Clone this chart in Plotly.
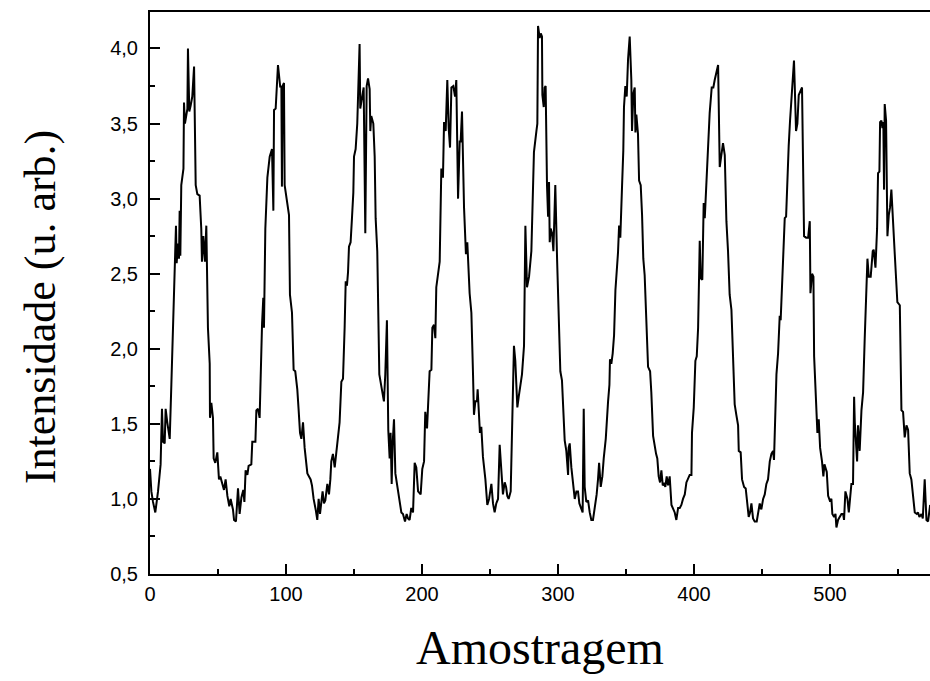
import plotly.graph_objects as go

amostra = [
    0.0, 1.0, 2.2, 3.9, 5.9, 7.8, 8.8, 9.6, 10.8, 11.5, 12.7, 14.5, 15.7, 17.2, 18.6, 19.1, 19.6, 20.6, 21.3, 21.8,
    22.3, 23.0, 24.6, 25.0, 25.7, 26.7, 27.5, 27.9, 28.9, 29.9, 31.1, 32.4, 33.6, 34.8, 36.5, 37.7, 38.2, 39.2, 40.4, 41.4,
    42.6, 43.9, 44.1, 45.1, 46.3, 46.8, 48.0, 49.5, 50.7, 51.7, 52.9, 54.4, 55.6, 56.9, 58.3, 59.3, 61.0, 61.8, 63.2, 64.7,
    65.9, 67.2, 68.6, 69.4, 70.3, 71.6, 72.5, 74.5, 75.2, 77.5, 78.2, 79.4, 80.6, 81.4, 82.4, 83.3, 83.8, 84.8, 86.3, 88.0,
    89.7, 90.7, 91.2, 92.4,
    94.1, 95.8, 96.6, 97.0, 97.5, 98.5, 99.0, 102.2, 102.9, 104.4, 105.6, 106.8, 108.3, 109.3, 110.3, 111.3, 112.5, 113.7,
    115.7, 116.9, 118.1, 119.1, 120.3, 121.8, 123.0, 124.0, 125.0, 126.0, 126.9, 127.9, 128.9, 130.4, 131.6, 132.6, 133.3,
    134.5, 135.8, 137.0, 138.2, 139.4, 140.7, 141.9, 143.1, 143.9, 144.8, 145.6, 146.3, 147.5, 148.5, 149.5, 150.0, 151.2,
    152.4, 152.9, 154.1, 154.6, 155.9, 157.1, 158.3, 159.3, 160.3, 161.5, 162.0, 162.7, 164.2, 165.2, 165.9, 167.1, 168.6,
    170.1, 172.0, 173.0, 174.2, 175.2, 176.2, 176.9, 177.7, 178.4, 179.4, 180.4, 181.8, 183.6, 184.8, 186.0, 187.5, 188.7,
    189.7, 190.9, 192.1, 193.4, 194.6, 195.8, 197.1, 199.0, 200.2, 201.5, 202.4, 203.7, 204.9, 205.6, 206.9, 207.6, 208.8,
    209.8, 210.5, 211.8, 213.0, 214.2, 215.4, 216.2, 217.4, 218.6, 219.6, 220.6, 221.6, 223.0, 224.3, 225.2, 226.0, 226.5,
    227.7, 228.4, 229.4, 230.9, 232.3, 233.3, 235.0, 236.3, 237.5, 238.2, 239.2, 240.4, 240.9, 241.7, 242.6, 243.6, 244.8,
    246.6, 248.0, 249.3, 251.0, 252.2, 253.4, 254.6, 255.9, 257.1, 258.3, 259.5, 260.8, 261.8, 262.7, 263.7, 265.2, 266.4,
    267.6, 268.6, 270.1, 271.1, 272.3, 273.5, 275.0, 276.0, 277.2, 278.7, 280.4, 281.6, 282.3, 284.1, 284.8,
    285.3, 285.8, 286.5, 287.3, 288.2, 288.5, 289.5, 290.2, 290.9, 291.9, 292.7, 293.4, 293.9, 294.6, 295.6, 296.6, 297.1,
    298.0, 299.3, 300.5, 301.7, 302.9, 304.2, 304.9, 306.1, 307.4, 307.8, 308.6, 309.8, 310.8, 312.3, 313.5, 314.7, 315.7,
    317.2, 318.1, 318.9, 319.6, 320.8, 322.1, 323.3, 324.5, 325.7, 327.0, 328.4, 329.4, 330.2, 331.4, 332.6, 333.6, 335.1,
    336.8, 337.8, 338.2, 339.2, 340.2, 341.2, 342.2, 343.4, 344.1, 344.9, 345.8, 347.1, 348.0, 348.5, 349.5, 350.5, 351.5,
    352.7, 353.9, 354.4, 355.4, 356.4, 356.9, 357.6, 358.8, 359.6, 360.8, 361.8, 362.7, 363.7, 364.9, 366.2, 367.7, 368.6,
    369.9, 371.1, 372.1, 373.0, 374.0, 375.0, 376.0, 377.0, 377.9, 378.9, 379.9, 380.9,
    382.1, 383.4, 384.6, 385.8, 387.0, 388.3, 389.5, 390.7, 391.9, 393.2, 394.4, 395.6, 396.8, 398.1, 398.5, 399.8, 401.0,
    402.0, 403.0, 404.2, 404.9, 406.1, 407.1, 407.9, 409.1, 410.3, 411.5, 413.0, 414.2, 415.2, 416.4, 417.7, 418.9, 420.1,
    421.3, 422.6, 423.8, 425.0, 426.2, 427.5, 428.7, 429.9, 431.1, 432.4, 432.9, 434.3, 435.3, 436.8, 438.0, 439.2, 440.2,
    441.2, 442.2, 443.4, 444.6, 446.1, 447.1, 448.3, 449.5, 450.8, 452.0, 453.2, 454.4, 455.7, 456.9, 458.1, 458.8, 459.8,
    460.6, 461.8, 463.0, 463.7, 464.7, 465.5, 466.7, 467.7, 468.6, 469.6, 470.6, 471.6, 472.8, 473.5, 474.0, 475.0, 476.0,
    477.0,
    479.4, 480.2, 480.9, 482.4, 483.9, 485.1, 485.6, 486.8, 487.8, 488.3, 489.5, 490.7, 491.7, 492.7, 494.1, 495.1, 495.9,
    497.6, 498.6, 499.8, 501.0, 501.7, 503.0, 504.0, 504.7, 505.9, 507.1, 508.4, 509.6, 510.3, 511.3, 512.8, 513.8, 514.7,
    515.7, 516.9, 517.7, 518.2, 519.1, 519.9, 520.6, 521.8, 523.1, 524.3, 525.5, 526.7, 527.5, 528.5, 529.9, 531.4, 532.1,
    533.4, 534.6, 535.3, 536.3, 536.8, 537.8, 538.5, 539.2, 539.7, 540.2, 541.2, 542.2, 543.2, 544.1, 545.1, 546.1, 547.6,
    549.5, 551.3, 552.5, 553.7, 554.9, 556.2, 557.4, 558.6, 559.8, 560.8, 562.3, 563.8, 564.7, 565.7, 567.2, 568.2, 569.6,
    570.9, 572.1, 573.6,
]

intensidade = [
    1.20, 1.05, 0.98, 0.91, 1.05, 1.23, 1.60, 1.38, 1.37, 1.60, 1.51, 1.40, 1.76, 2.19, 2.55, 2.82, 2.57, 2.70, 2.60, 2.92,
    2.62, 3.09, 3.20, 3.64, 3.50, 3.55, 3.60, 4.00, 3.58, 3.62, 3.68, 3.88, 3.09, 3.03, 3.02, 2.80, 2.58, 2.75, 2.58, 2.82,
    2.14, 1.90, 1.54, 1.64, 1.54, 1.27, 1.24, 1.31, 1.13, 1.15, 1.11, 1.06, 1.13, 1.02, 0.95, 1.00, 0.93, 0.86, 0.85, 1.07,
    0.90, 1.01, 1.06, 0.98, 1.19, 1.16, 1.22, 1.23, 1.38, 1.38, 1.59, 1.60, 1.54, 1.92, 2.17, 2.34, 2.14, 2.80, 3.14, 3.28,
    3.33, 2.92, 3.59, 3.60,
    3.89, 3.74, 3.75, 3.08, 3.75, 3.77, 3.09, 2.89, 2.36, 2.24, 1.86, 1.85, 1.73, 1.59, 1.44, 1.40, 1.51, 1.34,
    1.17, 1.15, 1.13, 1.09, 1.00, 0.93, 0.86, 1.00, 0.90, 0.98, 1.05, 0.97, 0.99, 1.10, 1.03, 1.13, 1.25,
    1.30, 1.21, 1.31, 1.42, 1.51, 1.78, 1.80, 2.14, 2.45, 2.42, 2.51, 2.68, 2.71, 2.87, 3.04, 3.28, 3.33,
    3.50, 3.62, 4.03, 3.60, 3.69, 3.74, 2.77, 3.75, 3.80, 3.73, 3.45, 3.55, 3.50, 3.28, 2.87, 2.65, 1.83,
    1.76, 1.65, 1.83, 2.19, 1.46, 1.27, 1.44, 1.10, 1.37, 1.53, 1.17, 1.08, 0.98, 0.91, 0.90, 0.85, 0.90,
    0.87, 0.86, 0.94, 0.91, 1.24, 1.21, 1.05, 1.03, 1.20, 1.25, 1.58, 1.47, 1.69, 1.85, 1.86, 2.14, 2.16,
    2.07, 2.41, 2.51, 2.58, 3.20, 3.14, 3.51, 3.45, 3.79, 3.47, 3.34, 3.74, 3.75, 3.68, 3.79, 3.31, 3.00,
    3.38, 3.38, 3.58, 2.94, 2.63, 2.71, 2.37, 2.24, 1.83, 1.56, 1.65, 1.65, 1.73, 1.59, 1.44, 1.48, 1.28,
    1.13, 0.96, 1.00, 1.10, 0.97, 0.91, 0.97, 1.00, 1.36, 1.15, 1.03, 1.11, 1.08, 1.02, 1.00, 1.05, 1.46,
    2.02, 1.92, 1.61, 1.68, 1.76, 1.83, 2.02, 2.82, 2.41, 2.48, 2.65, 3.04, 3.31, 3.45, 3.50,
    4.15, 4.12, 4.07, 4.10, 4.08, 3.69, 3.61, 3.74, 3.75, 3.09, 2.88, 3.11, 2.71, 2.80, 2.77, 2.65, 2.80,
    3.09, 2.60, 2.24, 1.85, 1.79, 1.46, 1.39, 1.32, 1.16, 1.34, 1.37, 1.21, 1.13, 1.00, 1.05, 1.05, 0.97,
    0.94, 0.91, 1.60, 1.08, 0.98, 0.99, 0.91, 0.86, 0.86, 0.93, 1.03, 1.13, 1.24, 1.08, 1.15, 1.27, 1.40,
    1.65, 1.76, 1.93, 1.90, 1.97, 2.09, 2.39, 2.52, 2.64, 2.82, 2.74, 3.09, 3.32, 3.61, 3.75, 3.68, 3.93,
    4.08, 3.79, 3.45, 3.70, 3.74, 3.44, 3.56, 3.43, 3.12, 3.09, 2.89, 2.60, 2.49, 2.22, 1.88, 1.85, 1.71,
    1.42, 1.34, 1.30, 1.27, 1.15, 1.11, 1.19, 1.09, 1.10, 1.08, 1.15, 1.09,
    1.15, 0.96, 0.93, 0.91, 0.86, 0.94, 0.94, 0.96, 1.00, 1.03, 1.11, 1.14, 1.16, 1.16, 1.44, 1.61, 1.92,
    1.95, 2.14, 2.72, 2.47, 2.46, 2.97, 2.87, 3.11, 3.44, 3.57, 3.74, 3.74, 3.79, 3.84, 3.89, 3.21, 3.29,
    3.37, 3.29, 2.85, 2.65, 2.36, 2.26, 1.95, 1.63, 1.56, 1.49, 1.32, 1.31, 1.13, 1.08, 1.07, 0.97, 0.88,
    0.91, 0.97, 0.87, 0.85, 0.85, 0.91, 0.97, 0.93, 1.00, 1.03, 1.10, 1.13, 1.25, 1.30, 1.32, 1.26, 1.66,
    1.83, 1.97, 2.22, 2.19, 2.46, 2.61, 2.87, 2.88, 3.16, 3.35, 3.52, 3.69, 3.85, 3.92, 3.77, 3.45, 3.50,
    3.69,
    3.74, 3.14, 2.75, 2.74, 2.74, 2.85, 2.37, 2.50, 2.48, 1.95, 1.66, 1.44, 1.53, 1.34, 1.25, 1.15, 1.23,
    1.18, 1.02, 0.99, 1.00, 0.90, 0.88, 0.90, 0.81, 0.86, 0.88, 0.90, 0.90, 0.86, 1.05, 1.00, 0.91, 1.03,
    1.10, 1.10, 1.68, 1.51, 1.34, 1.25, 1.49, 1.32, 1.59, 1.71, 2.07, 2.36, 2.60, 2.48, 2.48, 2.65, 2.66,
    2.54, 2.80, 3.17, 3.18, 3.51, 3.52, 3.47, 3.51, 3.06, 3.63, 3.52, 2.75, 2.89, 2.94, 3.06, 2.85, 2.63,
    2.31, 2.29, 1.59, 1.58, 1.41, 1.49, 1.46, 1.17, 1.13, 1.03, 0.91, 0.90, 0.91, 0.88, 0.90, 0.87, 1.13,
    0.86, 0.85, 0.96,
]

x_tickvals = [0, 100, 200, 300, 400, 500]
x_ticktext = ["0", "100", "200", "300", "400", "500"]
x_minorvals = [50, 150, 250, 350, 450, 550]
y_tickvals = [0.5, 1.0, 1.5, 2.0, 2.5, 3.0, 3.5, 4.0]
y_ticktext = ["0,5", "1,0", "1,5", "2,0", "2,5", "3,0", "3,5", "4,0"]
y_minorvals = [0.75, 1.25, 1.75, 2.25, 2.75, 3.25, 3.75]
x_title = "Amostragem"
y_title = "Intensidade (u. arb.)"

fig = go.Figure(
    go.Scatter(x=amostra, y=intensidade, mode="lines",
               line=dict(color="black", width=2), hoverinfo="skip")
)

tick_font = dict(family="Liberation Sans, Arial, sans-serif", size=20, color="black")
title_font_family = "Liberation Serif, Times New Roman, serif"

fig.update_layout(
    width=930, height=681,
    margin=dict(l=150, r=0, t=12, b=107),
    plot_bgcolor="white", paper_bgcolor="white",
    showlegend=False,
)

fig.update_xaxes(
    range=[0, 573.5], tickvals=x_tickvals, ticktext=x_ticktext,
    ticks="inside", ticklen=10, tickwidth=2, tickcolor="black",
    showline=True, linewidth=2, linecolor="black", mirror=True,
    showgrid=False, zeroline=False, tickfont=tick_font, ticklabelstandoff=1,
    minor=dict(tickvals=x_minorvals, ticks="inside", ticklen=5, tickwidth=2,
               tickcolor="black", showgrid=False),
)
fig.update_yaxes(
    range=[0.5, 4.243], tickvals=y_tickvals, ticktext=y_ticktext,
    ticks="inside", ticklen=10, tickwidth=2, tickcolor="black",
    showline=True, linewidth=2, linecolor="black", mirror=False,
    showgrid=False, zeroline=False, tickfont=tick_font, ticklabelstandoff=6,
    minor=dict(tickvals=y_minorvals, ticks="inside", ticklen=5, tickwidth=2,
               tickcolor="black", showgrid=False),
)

fig.add_annotation(
    text=x_title, xref="paper", yref="paper", x=0.5, y=-0.13,
    xanchor="center", yanchor="middle", showarrow=False,
    font=dict(family=title_font_family, size=48, color="black"),
)
fig.add_annotation(
    text=y_title, xref="paper", yref="paper", x=-0.141, y=0.475,
    xanchor="center", yanchor="middle", showarrow=False, textangle=-90,
    font=dict(family=title_font_family, size=44, color="black"),
)

fig.write_html("out.html")
